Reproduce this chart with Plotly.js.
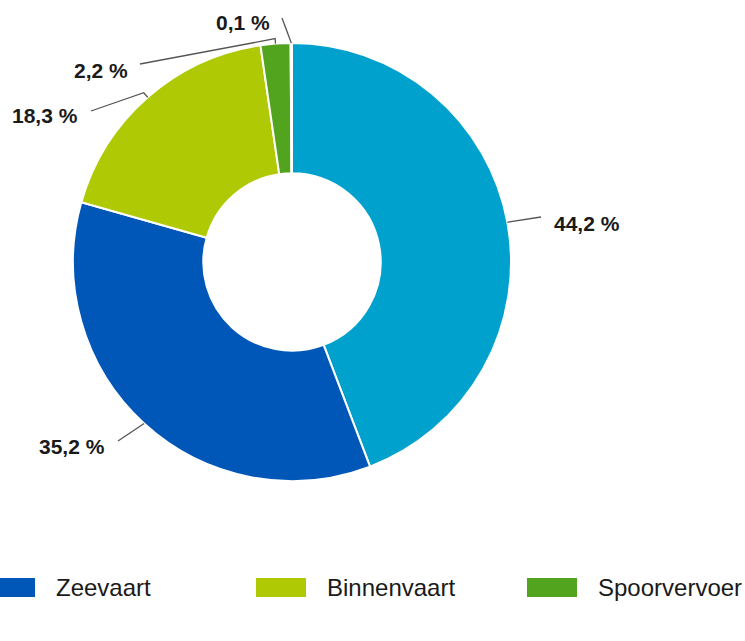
<!DOCTYPE html>
<html>
<head>
<meta charset="utf-8">
<script src="https://cdn.plot.ly/plotly-3.0.1.min.js"></script>
<style>
  html, body { margin: 0; padding: 0; background: #ffffff; }
  #chart { width: 745px; height: 641px; }
</style>
</head>
<body>
<div id="chart"></div>
<script>
// ---- data ----
const sliceNames = ['Wegvervoer', 'Zeevaart', 'Binnenvaart', 'Spoorvervoer', 'Luchtvaart'];
const sliceValues = [44.2, 35.2, 18.3, 2.2, 0.1];
const sliceColors = ['#00a2cd', '#0057b8', '#afca05', '#52a31e', '#9b9b9b'];
const legendNames = ['Zeevaart', 'Binnenvaart', 'Spoorvervoer'];

// ---- layout config (pixels) ----
const W = 745, H = 641;
const CX = 292, CY = 262, R = 219;
const HOLE = 0.405;
// per slice: where the leader line ends, where the text sits
const labelCfg = [
  { end: [541, 217], tx: 552, ty: 223, anchor: 'left',  ext: 2 },
  { end: [118, 441], tx: 107, ty: 447, anchor: 'right', ext: 0 },
  { end: [91, 111],  tx: 80,  ty: 116, anchor: 'right', ext: 6 },
  { end: [140, 64],  tx: 130, ty: 71,  anchor: 'right', ext: 5 },
  { end: [282, 18],  tx: 272, ty: 22,  anchor: 'right', ext: 0 }
];
const legendStart = -15, legendStep = 271, legendBoxW = 50, legendBoxTop = 578, legendBoxH = 19;
const legendTextGap = 19, legendTextY = 587;

const px = x => x / W;
const py = y => 1 - y / H;

const total = sliceValues.reduce((a, b) => a + b, 0);
const fmt = v => v.toFixed(1).replace('.', ',') + ' %';

const shapes = [];
const annotations = [];
let cum = 0;
sliceValues.forEach((v, i) => {
  const theta = 2 * Math.PI * (cum + v / 2) / total;
  cum += v;
  const cfg = labelCfg[i];
  const ex = CX + R * Math.sin(theta), ey = CY - R * Math.cos(theta);
  const kx = CX + (R + cfg.ext) * Math.sin(theta), ky = CY - (R + cfg.ext) * Math.cos(theta);
  shapes.push({
    type: 'path', xref: 'paper', yref: 'paper',
    path: `M ${px(ex)} ${py(ey)} L ${px(kx)} ${py(ky)} L ${px(cfg.end[0])} ${py(cfg.end[1])}`,
    line: { color: '#555555', width: 1.3 }
  });
  annotations.push({
    xref: 'paper', yref: 'paper', x: px(cfg.tx), y: py(cfg.ty),
    xanchor: cfg.anchor, yanchor: 'middle', showarrow: false,
    text: '<b>' + fmt(v) + '</b>',
    font: { family: 'Liberation Sans, Arial, sans-serif', size: 21, color: '#1a1a1a' }
  });
});

legendNames.forEach((name, i) => {
  const idx = sliceNames.indexOf(name);
  const x0 = legendStart + i * legendStep;
  shapes.push({
    type: 'rect', xref: 'paper', yref: 'paper',
    x0: px(x0), x1: px(x0 + legendBoxW),
    y0: py(legendBoxTop + legendBoxH), y1: py(legendBoxTop),
    fillcolor: sliceColors[idx], line: { width: 0 }
  });
  annotations.push({
    xref: 'paper', yref: 'paper', x: px(x0 + legendBoxW + legendTextGap), y: py(legendTextY),
    xanchor: 'left', yanchor: 'middle', showarrow: false, text: name,
    font: { family: 'Liberation Sans, Arial, sans-serif', size: 24, color: '#1a1a1a' }
  });
});

const trace = {
  type: 'pie',
  labels: sliceNames,
  values: sliceValues,
  sort: false,
  direction: 'clockwise',
  rotation: 0,
  hole: HOLE,
  textinfo: 'none',
  hoverinfo: 'label+percent',
  marker: { colors: sliceColors, line: { color: '#ffffff', width: 2 } },
  domain: { x: [px(CX - R), px(CX + R)], y: [py(CY + R), py(CY - R)] },
  showlegend: false
};

const layout = {
  width: W, height: H,
  margin: { l: 0, r: 0, t: 0, b: 0 },
  paper_bgcolor: '#ffffff',
  showlegend: false,
  shapes: shapes,
  annotations: annotations
};

Plotly.newPlot('chart', [trace], layout, { displayModeBar: false, staticPlot: true });
</script>
</body>
</html>
